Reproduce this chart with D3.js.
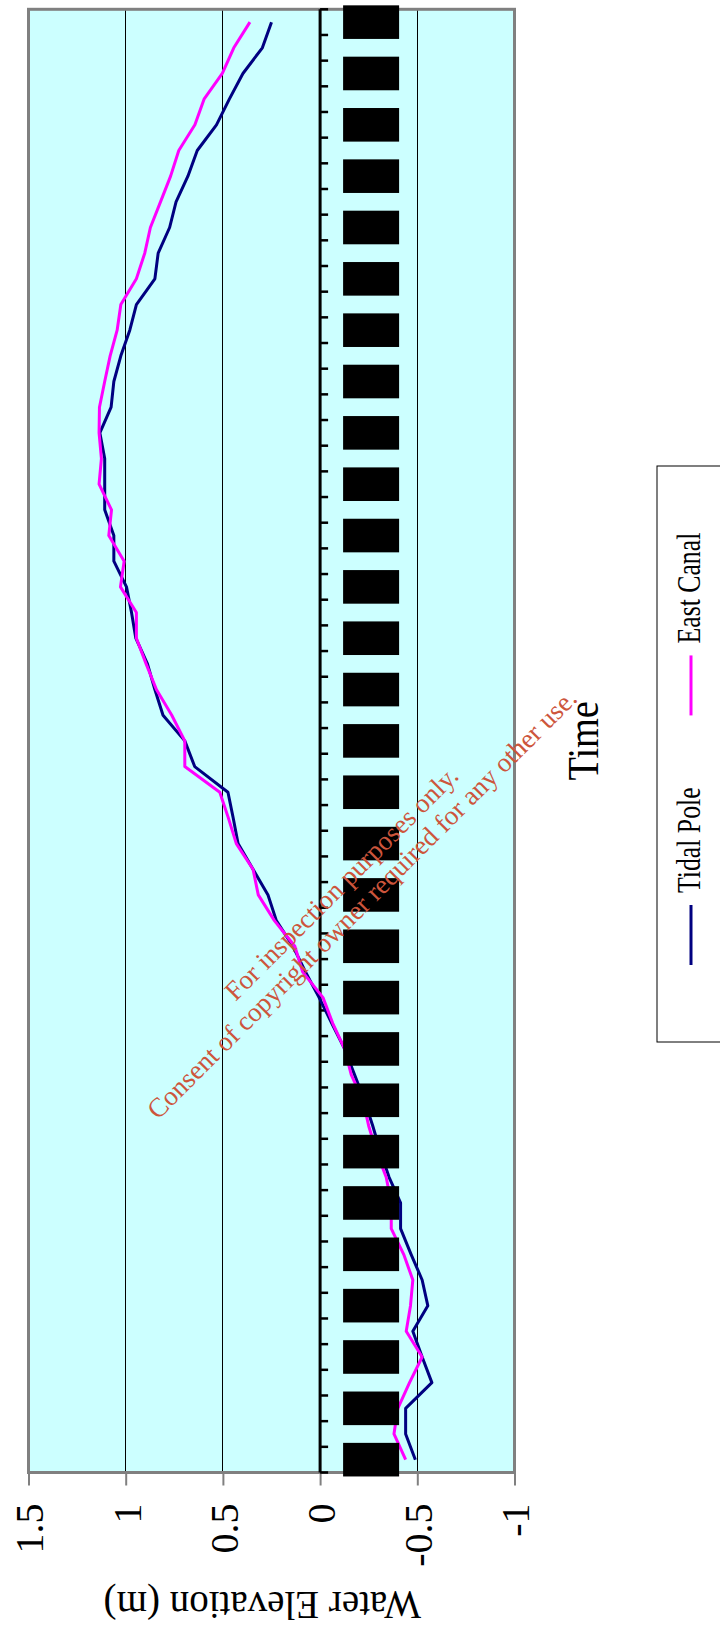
<!DOCTYPE html>
<html>
<head>
<meta charset="utf-8">
<script src="https://cdn.jsdelivr.net/npm/d3@7"></script>
<style>
  html, body { margin: 0; padding: 0; background: #fff; }
  svg { display: block; }
</style>
</head>
<body>
<script>
// Water elevation readings (m) at each time step
const tidalPole = [-0.49, -0.44, -0.44, -0.575, -0.525, -0.477, -0.554, -0.525, -0.468, -0.414,
  -0.414, -0.355, -0.31, -0.271, -0.228, -0.177, -0.126, -0.06, 0.005, 0.075,
  0.14, 0.225, 0.268, 0.345, 0.422, 0.447, 0.474, 0.645, 0.696, 0.808,
  0.85, 0.888, 0.948, 0.97, 0.996, 1.061, 1.061, 1.108, 1.108, 1.108,
  1.133, 1.075, 1.061, 1.025, 0.979, 0.945, 0.85, 0.833, 0.774, 0.741,
  0.68, 0.632, 0.533, 0.467, 0.397, 0.297, 0.25];
const eastCanal = [-0.44, -0.38, -0.40, -0.46, -0.525, -0.443, -0.465, -0.477, -0.43, -0.366,
  -0.366, -0.34, -0.29, -0.25, -0.22, -0.16, -0.126, -0.065, -0.015, 0.09,
  0.13, 0.235, 0.318, 0.345, 0.431, 0.472, 0.516, 0.696, 0.696, 0.763,
  0.842, 0.895, 0.945, 0.945, 1.027, 1.008, 1.087, 1.073, 1.137, 1.125,
  1.137, 1.135, 1.108, 1.08, 1.044, 1.025, 0.945, 0.902, 0.873, 0.821,
  0.769, 0.727, 0.644, 0.597, 0.503, 0.444, 0.361];
const timeSteps = d3.range(tidalPole.length);
const seriesNames = ["Tidal Pole", "East Canal"];
const seriesColors = ["#000080", "#FF00FF"];
const elevationTicks = [1.5, 1, 0.5, 0, -0.5, -1];
const gridValues = [1, 0.5, -0.5];
const watermarkLines = ["For inspection purposes only.",
  "Consent of copyright owner required for any other use."];

const series = seriesNames.map((name, k) => ({
  name, color: seriesColors[k], values: k === 0 ? tidalPole : eastCanal
}));

const PAGE_W = 720, PAGE_H = 1629;
const FONT = "'Liberation Serif', 'Times New Roman', serif";

const svg = d3.select("body").append("svg")
  .attr("width", PAGE_W).attr("height", PAGE_H);

// The chart is laid out landscape (time across, elevation up) and turned a quarter turn.
const W = PAGE_H;
const chart = svg.append("g").attr("transform", `translate(0,${W}) rotate(-90)`);

const plot = { left: 156.5, right: 1619.7, top: 28.5, bottom: 514.5 };

const x = d3.scaleBand().domain(timeSteps).range([plot.left, plot.right]).padding(0);
const bw = x.bandwidth();
const cx = i => x(i) + bw / 2;
const y = d3.scaleLinear().domain([-1, 1.5]).range([plot.bottom, plot.top]);

// plot area
chart.append("rect")
  .attr("x", plot.left).attr("y", plot.top)
  .attr("width", plot.right - plot.left).attr("height", plot.bottom - plot.top)
  .attr("fill", "#CCFFFF");

// horizontal gridlines
chart.append("g").selectAll("line").data(gridValues).join("line")
  .attr("x1", plot.left).attr("x2", plot.right)
  .attr("y1", d => y(d)).attr("y2", d => y(d))
  .attr("stroke", "#000").attr("stroke-width", 1)
  .attr("shape-rendering", "crispEdges");

// elevation axis
const yAxis = chart.append("g")
  .attr("transform", `translate(${plot.left},0)`)
  .call(d3.axisLeft(y).tickValues(elevationTicks).tickSize(13).tickPadding(18)
    .tickFormat(d => String(d)));
yAxis.select(".domain").remove();
yAxis.selectAll(".tick line").attr("stroke", "#808080").attr("stroke-width", 2);
yAxis.selectAll(".tick text")
  .attr("font-family", FONT).attr("font-size", 40).attr("fill", "#000")
  .attr("dy", "0.36em");

// frame
chart.append("rect")
  .attr("x", plot.left).attr("y", plot.top)
  .attr("width", plot.right - plot.left).attr("height", plot.bottom - plot.top)
  .attr("fill", "none").attr("stroke", "#808080").attr("stroke-width", 3);

// time axis along zero elevation
const boundaries = timeSteps.map(i => x(i)).concat([x.range()[1]]);
const tAxis = chart.append("g");
tAxis.append("line")
  .attr("x1", plot.left).attr("x2", plot.right)
  .attr("y1", y(0)).attr("y2", y(0))
  .attr("stroke", "#000").attr("stroke-width", 3);
tAxis.selectAll("line.tick").data(boundaries).join("line")
  .attr("class", "tick")
  .attr("x1", d => d).attr("x2", d => d)
  .attr("y1", y(0)).attr("y2", y(0) + 8)
  .attr("stroke", "#000").attr("stroke-width", 2.5);

// series lines
const line = d3.line().x((v, i) => cx(i)).y(v => y(v));
chart.append("g").selectAll("path").data(series).join("path")
  .attr("d", d => line(d.values))
  .attr("fill", "none")
  .attr("stroke", d => d.color)
  .attr("stroke-width", 3)
  .attr("stroke-linejoin", "round");

// time labels (blacked out)
chart.append("g").selectAll("rect")
  .data(timeSteps.filter(i => i % 2 === 0)).join("rect")
  .attr("x", i => cx(i) - 16.8).attr("width", 33.6)
  .attr("y", y(0) + 23).attr("height", 56)
  .attr("fill", "#000");

// axis titles
chart.append("text")
  .attr("transform", `translate(${(plot.left + plot.right) / 2},598) scale(0.85,1)`)
  .attr("text-anchor", "middle")
  .attr("font-family", FONT).attr("font-size", 45)
  .text("Time");

chart.append("text")
  .attr("transform", `translate(37,421) rotate(-90)`)
  .attr("text-anchor", "start")
  .attr("font-family", FONT).attr("font-size", 39)
  .text("Water Elevation (m)");

// legend
const legend = chart.append("g");
legend.append("rect")
  .attr("x", 587).attr("y", 657).attr("width", 576).attr("height", 120)
  .attr("fill", "#fff").attr("stroke", "#000").attr("stroke-width", 1);
const keyLen = 60, keyGap = 12, itemGap = 72, textSqueeze = 0.78;
let lx = 664;
series.forEach(s => {
  legend.append("line")
    .attr("x1", lx).attr("x2", lx + keyLen).attr("y1", 691).attr("y2", 691)
    .attr("stroke", s.color).attr("stroke-width", 3);
  const t = legend.append("text")
    .attr("transform", `translate(${lx + keyLen + keyGap},700) scale(${textSqueeze},1)`)
    .attr("font-family", FONT).attr("font-size", 33)
    .text(s.name);
  lx += keyLen + keyGap + t.node().getComputedTextLength() * textSqueeze + itemGap;
});

// watermark
const wm = svg.append("g").attr("transform", "translate(352,894) rotate(-45)");
wm.selectAll("text").data(watermarkLines).join("text")
  .attr("x", 0).attr("y", (d, i) => i === 0 ? -6 : 23)
  .attr("text-anchor", "middle")
  .attr("font-family", FONT).attr("font-size", 27)
  .attr("fill", "#CD553C")
  .text(d => d);
</script>
</body>
</html>
